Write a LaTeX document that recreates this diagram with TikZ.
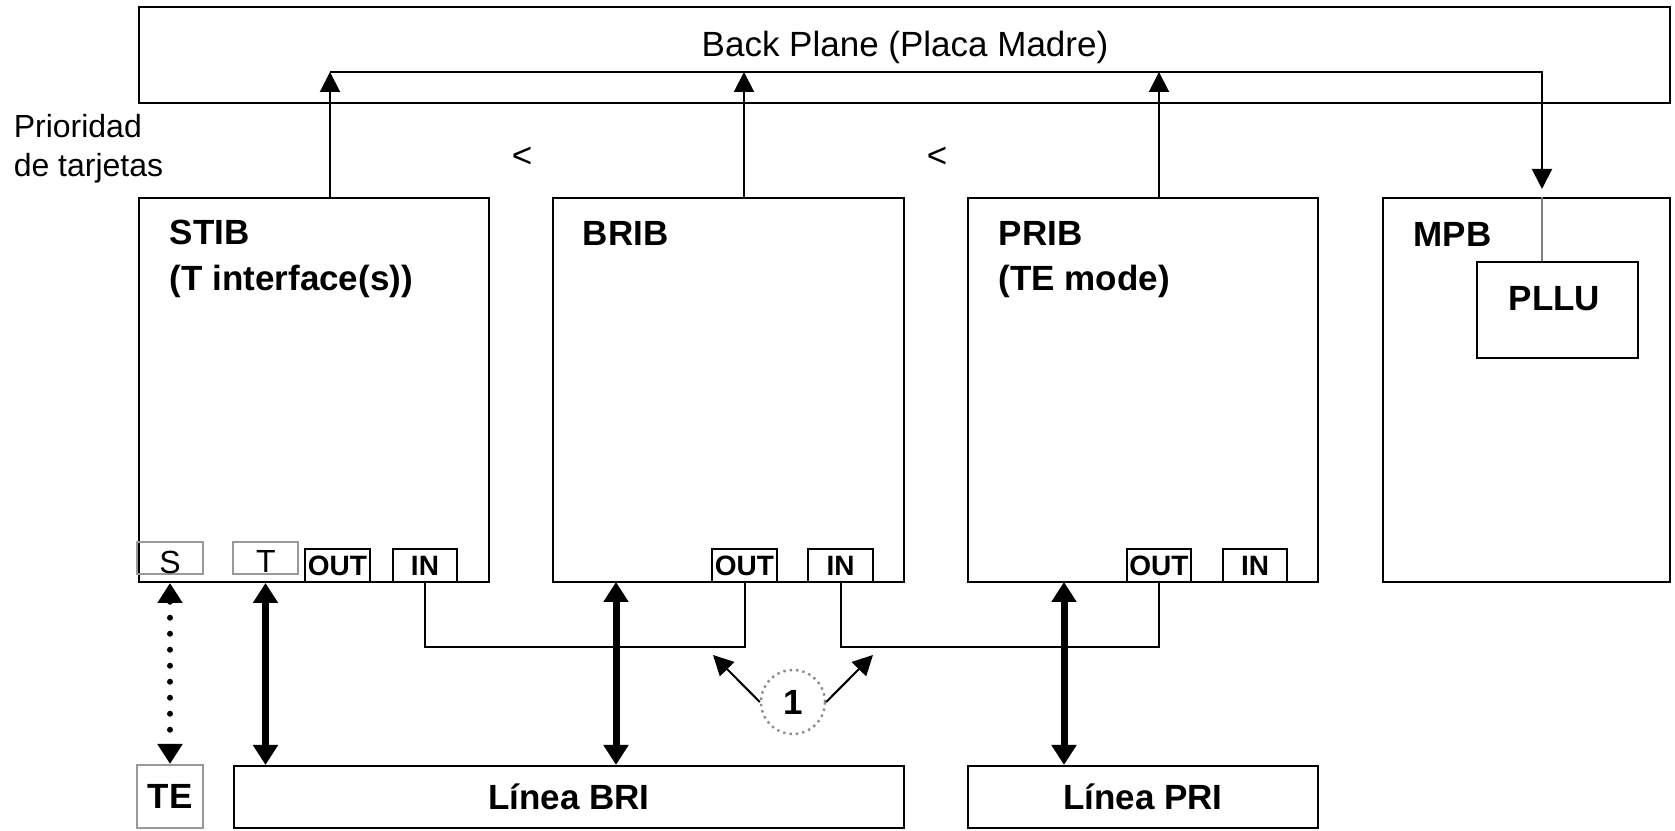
\documentclass[tikz,border=0pt]{standalone}
\usepackage{fontspec}
\setmainfont{Liberation Sans}
\usetikzlibrary{arrows.meta,fit}
\tikzset{
  card/.style={draw,line width=0.5pt,inner sep=0pt},
  port/.style={draw,line width=0.5pt,inner sep=0pt},
  grayport/.style={draw=black!40,line width=0.5pt,inner sep=0pt},
  porttxt/.style={inner sep=0pt,font=\fontsize{7}{8}\selectfont\bfseries},
  lbl/.style={anchor=base west,inner sep=0pt,font=\fontsize{8.75}{10.5}\selectfont\bfseries},
  boldtxt/.style={inner sep=0pt,font=\fontsize{8.75}{10.5}\selectfont\bfseries},
  bigarrow/.style={line width=1.75pt,>={Triangle[width=6pt,length=5pt]},<->},
}
\begin{document}
\begin{tikzpicture}[x=0.25pt,y=-0.25pt,line join=miter,>={Triangle[width=5pt,length=5pt]},font=\fontsize{8.75}{10.5}\selectfont]
\useasboundingbox (0,0) rectangle (1675,831);
% back plane
\node[card,fit={(139,7) (1670,103)}] (bp) {};
\node[anchor=base,inner sep=0pt] (bptxt) at (905,57) {Back Plane (Placa Madre)};
\node[anchor=base west,inner sep=0pt,font=\fontsize{8}{9.6}\selectfont] (prio1) at (13,138) {Prioridad};
\node[anchor=base west,inner sep=0pt,font=\fontsize{8}{9.6}\selectfont] (prio2) at (13,177) {de tarjetas};
\node[inner sep=0pt] (lt1) at (522,157) {<};
\node[inner sep=0pt] (lt2) at (937,157) {<};
% tarjetas
\node[card,fit={(139,198) (489,582)}] (stib) {};
\node[card,fit={(553,198) (904,582)}] (brib) {};
\node[card,fit={(968,198) (1318,582)}] (prib) {};
\node[card,fit={(1383,198) (1670,582)}] (mpb) {};
\node[card,fit={(1477,262) (1638,358)}] (pllu) {};
\node[lbl] (stibname) at (169,245) {STIB};
\node[lbl] (stibsub) at (169,291) {(T interface(s))};
\node[lbl] (bribname) at (582,246) {BRIB};
\node[lbl] (pribname) at (998,246) {PRIB};
\node[lbl] (pribsub) at (998,291) {(TE mode)};
\node[lbl] (mpbname) at (1413,247) {MPB};
\node[lbl] (plluname) at (1508,311) {PLLU};
% puertos
\node[grayport,fit={(137,542) (203,574)}] (s) {};
\node[inner sep=0pt,font=\fontsize{8}{9}\selectfont] (stxt) at (170,562) {S};
\node[grayport,fit={(233,542) (298,574)}] (t) {};
\node[inner sep=0pt,font=\fontsize{8}{9}\selectfont] (ttxt) at (266,562) {T};
\foreach \n/\a/\b/\t in {stibout/305/370/OUT,stibin/393/457/IN,bribout/712/777/OUT,bribin/808/873/IN,pribout/1127/1191/OUT,pribin/1223/1287/IN}{
  \node[port,fit={(\a,549) (\b,582)}] (\n) {};
  \node[porttxt] (\n txt) at (\n.center) {\t};
}
% lineas
\node[grayport,fit={(137,765) (203,828)}] (te) {};
\node[boldtxt] (tetxt) at (te.center) {TE};
\node[card,fit={(234,766) (904,828)}] (bri) {};
\node[boldtxt] (britxt) at (bri.center) {Línea BRI};
\node[card,fit={(968,766) (1318,828)}] (pri) {};
\node[boldtxt] (pritxt) at (pri.center) {Línea PRI};
% bus
\coordinate (bus1) at (330,72);
\coordinate (bus2) at (744,72);
\coordinate (bus3) at (1159,72);
\coordinate (bus4) at (1542,72);
\foreach \c/\b in {stib/bus1,brib/bus2,prib/bus3}
  \draw[line width=0.5pt,->] (\c.north -| \b) -- (\b);
\draw[line width=0.5pt,->,shorten >=2pt] (bus1) -- (bus4) -- (mpb.north -| bus4);
\draw[black!50,line width=0.4pt] (mpb.north -| bus4) -- (pllu.north -| bus4);
% OUT -> IN
\draw[line width=0.5pt] (stibin.south) -- ++(0,64) -| (bribout.south);
\draw[line width=0.5pt] (bribin.south) -- ++(0,64) -| (pribout.south);
% conexiones a las lineas
\draw[bigarrow,line width=1.5pt,line cap=round,dash pattern=on 0pt off 4pt] (stib.south -| s) -- (te.north);
\draw[bigarrow] (stib.south -| t) -- (bri.north -| t);
\coordinate (brtap) at (616,582);
\draw[bigarrow] (brtap) -- (bri.north -| brtap);
\coordinate (prtap) at (1064,582);
\draw[bigarrow] (prtap) -- (pri.north -| prtap);
% nota 1
\node[circle,draw=black!45,densely dotted,line width=0.6pt,minimum size=16pt,inner sep=0pt,font=\fontsize{8.75}{10.5}\selectfont\bfseries] (one) at (793,702) {1};
\coordinate (c1) at (713,655);
\coordinate (c2) at (873,655);
\draw[line width=0.5pt,->] (one.west) -- (c1);
\draw[line width=0.5pt,->] (one.east) -- (c2);
\end{tikzpicture}
\end{document}
